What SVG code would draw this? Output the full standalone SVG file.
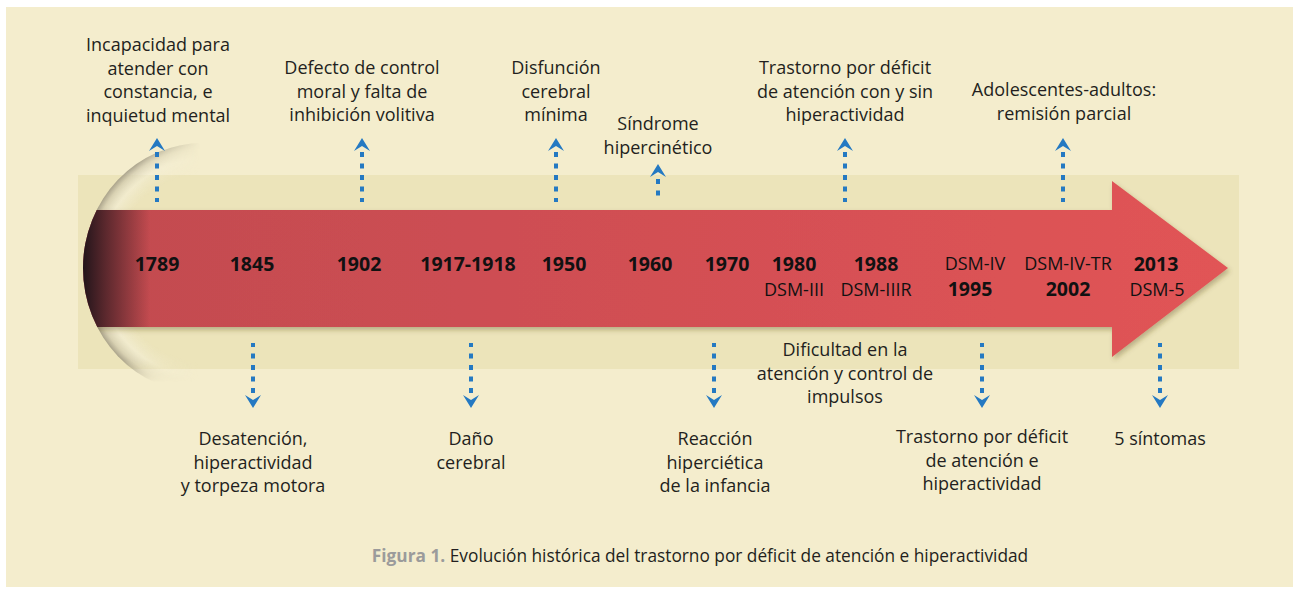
<svg xmlns="http://www.w3.org/2000/svg" width="1299" height="592" viewBox="0 0 1299 592">
<style>
.lbl{font-family:"Open Sans","Liberation Sans",sans-serif;font-size:18px;fill:#231F20;text-anchor:middle}
.yr{font-family:"Open Sans","Liberation Sans",sans-serif;font-size:19.5px;font-weight:bold;fill:#111;text-anchor:middle}
.dsm{font-family:"Open Sans","Liberation Sans",sans-serif;font-size:18px;fill:#111;text-anchor:middle}
.dot{stroke:#2479C2;stroke-width:4;stroke-dasharray:5 6.5;fill:none}
.head{fill:#2479C2}
.cap{font-family:"Open Sans","Liberation Sans",sans-serif;font-size:17.3px;fill:#231F20;text-anchor:middle}
</style>
<defs>
<clipPath id="arrowClip">
<ellipse cx="203" cy="268" rx="120" ry="125"/>
<rect x="203" y="0" width="1096" height="592"/>
</clipPath>
<linearGradient id="redG" gradientUnits="userSpaceOnUse" x1="83" y1="0" x2="1228" y2="0">
<stop offset="0" stop-color="#C24B50"/>
<stop offset="0.5" stop-color="#D24F53"/>
<stop offset="1" stop-color="#E15456"/>
</linearGradient>
<radialGradient id="edge" cx="0.5" cy="0.5" r="0.5">
<stop offset="0" stop-color="#F3EDD3" stop-opacity="0"/>
<stop offset="0.74" stop-color="#F3EDD3" stop-opacity="0"/>
<stop offset="0.87" stop-color="#F5F0DA" stop-opacity="0.6"/>
<stop offset="0.95" stop-color="#D2CBB0" stop-opacity="0.75"/>
<stop offset="1" stop-color="#9E9782" stop-opacity="0.85"/>
</radialGradient>
<linearGradient id="fadeG" gradientUnits="userSpaceOnUse" x1="83" y1="0" x2="200" y2="0">
<stop offset="0" stop-color="#fff"/>
<stop offset="0.45" stop-color="#fff"/>
<stop offset="1" stop-color="#000"/>
</linearGradient>
<linearGradient id="fadeV" gradientUnits="userSpaceOnUse" x1="0" y1="360" x2="0" y2="382">
<stop offset="0" stop-color="#fff"/>
<stop offset="1" stop-color="#000"/>
</linearGradient>
<mask id="leftMask" maskUnits="userSpaceOnUse" x="0" y="0" width="1299" height="592">
<rect x="0" y="0" width="1299" height="592" fill="url(#fadeG)"/>
</mask>
<mask id="botMask" maskUnits="userSpaceOnUse" x="0" y="0" width="1299" height="592">
<rect x="0" y="0" width="1299" height="592" fill="url(#fadeV)"/>
</mask>
<linearGradient id="shade" gradientUnits="userSpaceOnUse" x1="83" y1="0" x2="150" y2="0">
<stop offset="0" stop-color="#1A1218" stop-opacity="0.95"/>
<stop offset="0.35" stop-color="#1A1218" stop-opacity="0.6"/>
<stop offset="1" stop-color="#1A1218" stop-opacity="0"/>
</linearGradient>
<filter id="sh" x="-5%" y="-20%" width="110%" height="150%">
<feDropShadow dx="2" dy="3" stdDeviation="2.5" flood-color="#5a4a20" flood-opacity="0.35"/>
</filter>
</defs>

<rect x="0" y="0" width="1299" height="592" fill="#FFFFFF"/>
<rect x="6" y="7" width="1287" height="580" fill="#F4EDCD"/>
<rect x="78" y="175" width="1161" height="194" fill="#ECE4BA"/>

<g id="timeline-arrow">
<g mask="url(#botMask)">
<ellipse cx="203" cy="268" rx="120" ry="125" fill="url(#edge)" mask="url(#leftMask)"/>
</g>
<g clip-path="url(#arrowClip)">
<polygon points="60,210 1112,210 1112,181 1228,268 1112,357 1112,327 60,327" fill="url(#redG)" filter="url(#sh)"/>
<rect x="80" y="210" width="80" height="117" fill="url(#shade)"/>
</g>
</g>

<g id="connectors">
<g class="dot">
<line x1="157" y1="152" x2="157" y2="202"/>
<line x1="362" y1="152" x2="362" y2="202"/>
<line x1="556" y1="152" x2="556" y2="202"/>
<line x1="658" y1="179" x2="658" y2="202"/>
<line x1="845" y1="152" x2="845" y2="202"/>
<line x1="1063" y1="152" x2="1063" y2="202"/>
<line x1="253" y1="393" x2="253" y2="343"/>
<line x1="471" y1="393" x2="471" y2="343"/>
<line x1="714" y1="393" x2="714" y2="343"/>
<line x1="982" y1="393" x2="982" y2="343"/>
<line x1="1160" y1="393" x2="1160" y2="343"/>
</g>
<g class="head">
<path d="M149,151 L157,138 L165,151 L157,146 Z"/>
<path d="M354,151 L362,138 L370,151 L362,146 Z"/>
<path d="M548,151 L556,138 L564,151 L556,146 Z"/>
<path d="M650,177 L658,164 L666,177 L658,172 Z"/>
<path d="M837,151 L845,138 L853,151 L845,146 Z"/>
<path d="M1055,151 L1063,138 L1071,151 L1063,146 Z"/>
<path d="M245,395 L253,408 L261,395 L253,400 Z"/>
<path d="M463,395 L471,408 L479,395 L471,400 Z"/>
<path d="M706,395 L714,408 L722,395 L714,400 Z"/>
<path d="M974,395 L982,408 L990,395 L982,400 Z"/>
<path d="M1152,395 L1160,408 L1168,395 L1160,400 Z"/>
</g>
</g>

<g id="years">
<text class="yr" x="157" y="271">1789</text>
<text class="yr" x="252" y="271">1845</text>
<text class="yr" x="359" y="271">1902</text>
<text class="yr" x="468" y="271">1917-1918</text>
<text class="yr" x="564" y="271">1950</text>
<text class="yr" x="650" y="271">1960</text>
<text class="yr" x="727" y="271">1970</text>
<text class="yr" x="794" y="271">1980</text>
<text class="dsm" x="794" y="296">DSM-III</text>
<text class="yr" x="876" y="271">1988</text>
<text class="dsm" x="876" y="296">DSM-IIIR</text>
<text class="dsm" x="975" y="270">DSM-IV</text>
<text class="yr" x="970" y="296">1995</text>
<text class="dsm" x="1068" y="270">DSM-IV-TR</text>
<text class="yr" x="1068" y="296">2002</text>
<text class="yr" x="1156" y="271">2013</text>
<text class="dsm" x="1157" y="296">DSM-5</text>
</g>

<g id="n1789"><text class="lbl" x="158" y="51">Incapacidad para<tspan x="158" dy="23.5">atender con</tspan><tspan x="158" dy="23.5">constancia, e</tspan><tspan x="158" dy="23.5">inquietud mental</tspan></text></g>
<g id="n1902"><text class="lbl" x="362" y="74">Defecto de control<tspan x="362" dy="23.5">moral y falta de</tspan><tspan x="362" dy="23.5">inhibición volitiva</tspan></text></g>
<g id="n1950"><text class="lbl" x="556" y="74">Disfunción<tspan x="556" dy="23.5">cerebral</tspan><tspan x="556" dy="23.5">mínima</tspan></text></g>
<g id="n1960"><text class="lbl" x="658" y="130">Síndrome<tspan x="658" dy="23.5">hipercinético</tspan></text></g>
<g id="n1980"><text class="lbl" x="845" y="74">Trastorno por déficit<tspan x="845" dy="23.5">de atención con y sin</tspan><tspan x="845" dy="23.5">hiperactividad</tspan></text></g>
<g id="n2002"><text class="lbl" x="1064" y="96">Adolescentes-adultos:<tspan x="1064" dy="23.5">remisión parcial</tspan></text></g>

<g id="n1845"><text class="lbl" x="253" y="445">Desatención,<tspan x="253" dy="23.5">hiperactividad</tspan><tspan x="253" dy="23.5">y torpeza motora</tspan></text></g>
<g id="n1917"><text class="lbl" x="471" y="445">Daño<tspan x="471" dy="23.5">cerebral</tspan></text></g>
<g id="n1970"><text class="lbl" x="715" y="445">Reacción<tspan x="715" dy="23.5">hiperciética</tspan><tspan x="715" dy="23.5">de la infancia</tspan></text></g>
<g id="n1988"><text class="lbl" x="845" y="356">Dificultad en la<tspan x="845" dy="23.5">atención y control de</tspan><tspan x="845" dy="23.5">impulsos</tspan></text></g>
<g id="n1995"><text class="lbl" x="982" y="443">Trastorno por déficit<tspan x="982" dy="23.5">de atención e</tspan><tspan x="982" dy="23.5">hiperactividad</tspan></text></g>
<g id="n2013"><text class="lbl" x="1160" y="445">5 síntomas</text></g>

<g id="caption"><text class="cap" x="700" y="562"><tspan font-weight="bold" fill="#9B9B9B">Figura 1.</tspan> Evolución histórica del trastorno por déficit de atención e hiperactividad</text></g>
</svg>
